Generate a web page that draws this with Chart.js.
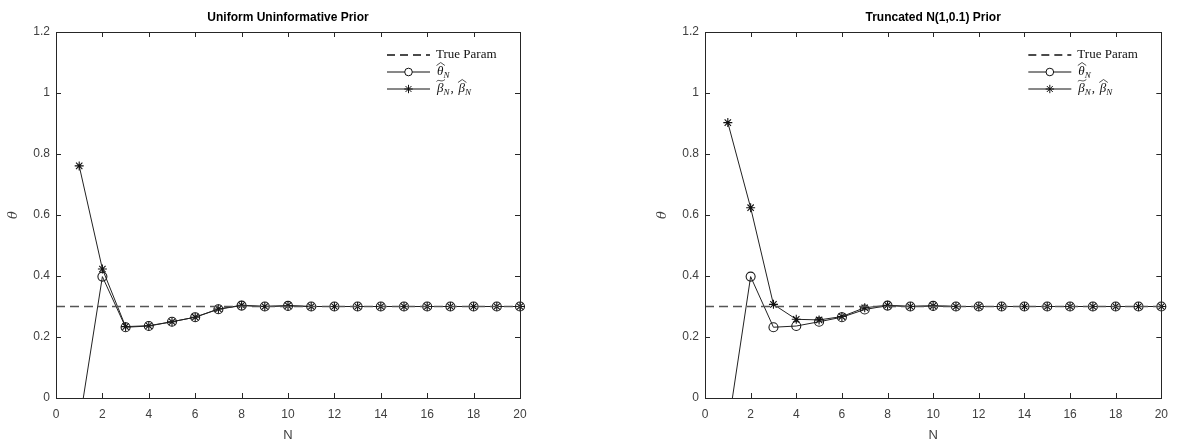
<!DOCTYPE html>
<html>
<head>
<meta charset="utf-8">
<script src="https://cdn.jsdelivr.net/npm/chart.js@4.4.1/dist/chart.umd.min.js"></script>
<style>
  html, body { margin: 0; padding: 0; background: #fff; }
  body { width: 1177px; height: 442px; position: relative; overflow: hidden; }
  .wrap { position: absolute; top: 0; height: 442px; }
  canvas { display: block; }
</style>
</head>
<body>
<div class="wrap" style="left:0;width:588px"><canvas id="c1" width="588" height="442"></canvas></div>
<div class="wrap" style="left:588px;width:589px"><canvas id="c2" width="589" height="442"></canvas></div>
<script>
// ---- data ----
const N = [1,2,3,4,5,6,7,8,9,10,11,12,13,14,15,16,17,18,19,20];
const trueParamX = [0, 20];
const trueParamY = [0.3, 0.3];
const leftTheta = [-0.085,0.398,0.232,0.236,0.250,0.265,0.291,0.303,0.300,0.302,0.300,0.300,0.300,0.300,0.300,0.300,0.300,0.300,0.300,0.300];
const leftBeta  = [0.761,0.423,0.234,0.237,0.250,0.265,0.292,0.304,0.300,0.303,0.300,0.300,0.300,0.300,0.300,0.300,0.300,0.300,0.300,0.300];
const rightTheta = [-0.10,0.398,0.232,0.236,0.250,0.265,0.290,0.303,0.300,0.302,0.300,0.300,0.300,0.300,0.300,0.300,0.300,0.300,0.300,0.300];
const rightBeta  = [0.903,0.624,0.307,0.258,0.256,0.267,0.296,0.304,0.300,0.302,0.300,0.300,0.300,0.300,0.300,0.300,0.300,0.300,0.300,0.300];
const xTicks = [0,2,4,6,8,10,12,14,16,18,20];
const yTicks = [0,0.2,0.4,0.6,0.8,1,1.2];
const yTickLabels = ['0','0.2','0.4','0.6','0.8','1','1.2'];
const titles = ['Uniform Uninformative Prior', 'Truncated N(1,0.1) Prior'];
const legendLabels = ['True Param', 'θ', 'β', 'β'];

const AX = '#262626';
const TXT = '#404040';

const framePlugin = {
  id: 'frame',
  afterDraw(chart, args, opts) {
    const {ctx, chartArea: a, scales} = chart;
    ctx.save();
    ctx.strokeStyle = AX;
    ctx.lineWidth = 1;
    ctx.strokeRect(Math.round(a.left) + 0.5, Math.round(a.top) + 0.5, Math.round(a.right - a.left), Math.round(a.bottom - a.top));
    const tl = 5;
    ctx.beginPath();
    scales.x.ticks.forEach((t, i) => {
      const x = Math.round(scales.x.getPixelForTick(i)) + 0.5;
      ctx.moveTo(x, a.bottom); ctx.lineTo(x, a.bottom - tl);
      ctx.moveTo(x, a.top); ctx.lineTo(x, a.top + tl);
    });
    scales.y.ticks.forEach((t, i) => {
      const y = Math.round(scales.y.getPixelForTick(i)) + 0.5;
      ctx.moveTo(a.left, y); ctx.lineTo(a.left + tl, y);
      ctx.moveTo(a.right, y); ctx.lineTo(a.right - tl, y);
    });
    ctx.stroke();

    // title
    ctx.fillStyle = '#000';
    ctx.font = 'bold 12px "Liberation Sans", Arial, sans-serif';
    ctx.textAlign = 'center';
    ctx.textBaseline = 'middle';
    ctx.fillText(opts.title, (a.left + a.right) / 2, 18);

    // axis labels
    ctx.fillStyle = TXT;
    ctx.font = '13px "Liberation Sans", Arial, sans-serif';
    ctx.fillText('N', (a.left + a.right) / 2, 435);
    ctx.save();
    ctx.translate(a.left - 42, (a.top + a.bottom) / 2);
    ctx.rotate(-Math.PI / 2);
    ctx.font = 'italic 13px "DejaVu Serif", serif';
    ctx.fillText('θ', 0, 0);
    ctx.restore();

    // legend
    const lx = a.right - 133, lx2 = a.right - 90, tx = a.right - 84;
    const rows = [a.top + 23, a.top + 40, a.top + 57];
    ctx.strokeStyle = '#111';
    ctx.lineWidth = 1;
    ctx.save();
    ctx.setLineDash([8, 5]);
    ctx.lineWidth = 1.3;
    ctx.beginPath(); ctx.moveTo(lx, rows[0]); ctx.lineTo(lx2, rows[0]); ctx.stroke();
    ctx.restore();
    ctx.beginPath(); ctx.moveTo(lx, rows[1]); ctx.lineTo(lx2, rows[1]); ctx.stroke();
    ctx.fillStyle = '#fff';
    ctx.beginPath(); ctx.arc((lx + lx2) / 2, rows[1], 3.8, 0, Math.PI * 2); ctx.fill(); ctx.stroke();
    ctx.beginPath(); ctx.moveTo(lx, rows[2]); ctx.lineTo(lx2, rows[2]); ctx.stroke();
    const cx = (lx + lx2) / 2, cy = rows[2], r = 4.2;
    ctx.beginPath();
    ctx.moveTo(cx - r, cy); ctx.lineTo(cx + r, cy);
    ctx.moveTo(cx, cy - r); ctx.lineTo(cx, cy + r);
    const d = r * 0.7071;
    ctx.moveTo(cx - d, cy - d); ctx.lineTo(cx + d, cy + d);
    ctx.moveTo(cx - d, cy + d); ctx.lineTo(cx + d, cy - d);
    ctx.stroke();

    ctx.fillStyle = '#111';
    ctx.textAlign = 'left';
    ctx.textBaseline = 'middle';
    ctx.font = '13px "Liberation Serif", "DejaVu Serif", serif';
    ctx.fillText(legendLabels[0], tx, rows[0]);
    const drawSym = (sym, accent, x, y) => {
      ctx.font = 'italic 13px "Liberation Serif", serif';
      ctx.fillText(sym, x, y);
      const w = ctx.measureText(sym).width;
      ctx.save();
      ctx.strokeStyle = '#222';
      ctx.lineWidth = 0.8;
      const top = y - 9;
      ctx.beginPath();
      if (accent === 'hat') {
        ctx.moveTo(x - 0.5, top + 2.5); ctx.lineTo(x + w / 2 + 0.5, top - 0.5); ctx.lineTo(x + w + 1.5, top + 2.5);
      } else {
        ctx.moveTo(x - 0.5, top + 1.5);
        ctx.bezierCurveTo(x + w * 0.3, top - 1.5, x + w * 0.6, top + 3, x + w + 1.5, top - 0.5);
      }
      ctx.stroke();
      ctx.restore();
      ctx.font = 'italic 9px "Liberation Serif", serif';
      ctx.fillText('N', x + w, y + 4);
      return x + w + ctx.measureText('N').width;
    };
    drawSym(legendLabels[1], 'hat', tx + 1, rows[1]);
    let e = drawSym(legendLabels[2], 'tilde', tx + 1, rows[2]);
    ctx.font = '13px "Liberation Serif", serif';
    ctx.fillText(',', e + 1, rows[2]);
    drawSym(legendLabels[3], 'hat', e + 9, rows[2]);
    ctx.restore();
  }
};

function makeChart(id, theta, beta, title, canvasW, plotLeft, plotRight) {
  const pts = (ys) => N.map((n, i) => ({x: n, y: ys[i]}));
  return new Chart(document.getElementById(id), {
    type: 'line',
    data: {
      datasets: [
        { label: 'True Param', data: trueParamX.map((x, i) => ({x, y: trueParamY[i]})),
          borderColor: '#555', borderWidth: 1.4, borderDash: [9, 5], pointRadius: 0, clip: 0 },
        { label: 'theta', data: pts(theta), borderColor: '#222', borderWidth: 1,
          pointStyle: 'circle', pointRadius: 4.5, pointBorderColor: '#1a1a1a', pointBorderWidth: 1.1,
          pointBackgroundColor: 'rgba(0,0,0,0)', clip: {left: 0, top: 0, right: 8, bottom: 0} },
        { label: 'beta', data: pts(beta), borderColor: '#222', borderWidth: 1,
          pointStyle: 'star', pointRadius: 4.5, pointBorderColor: '#111', pointBorderWidth: 1.1,
          pointBackgroundColor: 'rgba(0,0,0,0)', clip: {left: 0, top: 0, right: 8, bottom: 0} }
      ]
    },
    options: {
      responsive: false,
      animation: false,
      devicePixelRatio: 1,
      layout: { padding: { left: 0, top: 32, right: canvasW - plotRight, bottom: 0 } },
      plugins: {
        legend: { display: false },
        tooltip: { enabled: false },
        title: { display: false },
        frame: { title }
      },
      scales: {
        x: {
          type: 'linear', min: 0, max: 20,
          afterBuildTicks: (s) => { s.ticks = xTicks.map(v => ({value: v})); },
          afterFit: (s) => { s.height = 44; },
          grid: { display: false, drawTicks: false },
          border: { display: false },
          ticks: { color: TXT, padding: 9, maxRotation: 0, autoSkip: false,
                   font: { family: '"Liberation Sans", Arial, sans-serif', size: 12 } }
        },
        y: {
          type: 'linear', min: 0, max: 1.2,
          afterBuildTicks: (s) => { s.ticks = yTicks.map(v => ({value: v})); },
          afterFit: (s) => { s.width = plotLeft; },
          grid: { display: false, drawTicks: false },
          border: { display: false },
          ticks: { color: TXT, padding: 6, autoSkip: false,
                   callback: (v) => { const i = yTicks.indexOf(v); return i >= 0 ? yTickLabels[i] : ''; },
                   font: { family: '"Liberation Sans", Arial, sans-serif', size: 12 } }
        }
      }
    },
    plugins: [framePlugin]
  });
}

makeChart('c1', leftTheta, leftBeta, titles[0], 588, 56, 520);
makeChart('c2', rightTheta, rightBeta, titles[1], 589, 117, 580);
</script>
</body>
</html>
